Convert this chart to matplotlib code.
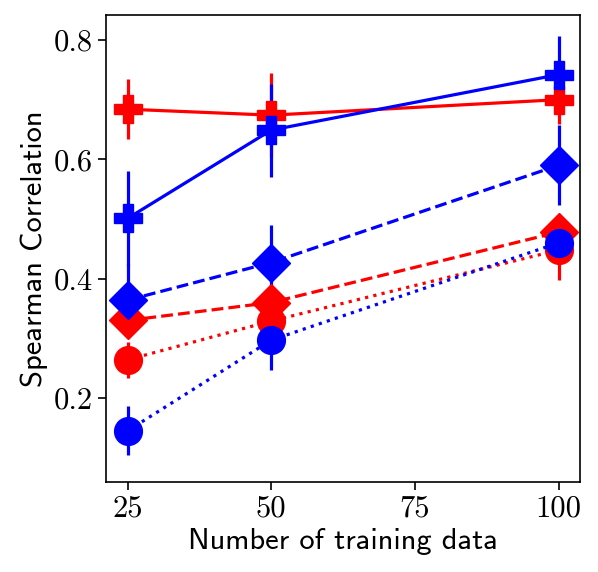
import matplotlib
matplotlib.use("Agg")
import matplotlib.pyplot as plt

n_train = [25, 50, 100]

# solid line, "P" markers
red_plus = [0.684, 0.674, 0.700]
red_plus_err = [0.050, 0.070, 0.040]
blue_plus = [0.501, 0.649, 0.742]
blue_plus_err = [0.080, 0.078, 0.065]

# dashed line, diamonds
red_diam = [0.330, 0.360, 0.478]
red_diam_err = [0.020, 0.030, 0.025]
blue_diam = [0.364, 0.427, 0.590]
blue_diam_err = [0.060, 0.063, 0.067]

# dotted line, circles
red_circ = [0.264, 0.329, 0.448]
red_circ_err = [0.030, 0.030, 0.050]
blue_circ = [0.145, 0.297, 0.460]
blue_circ_err = [0.041, 0.050, 0.020]

x_ticks = [25, 50, 75, 100]
y_ticks = [0.2, 0.4, 0.6, 0.8]

fig = plt.figure(figsize=(5.98, 5.72), dpi=100)
ax = fig.add_axes([0.1773, 0.1573, 0.7927, 0.8165])

series = [
    (red_plus, red_plus_err, 'red', 'P', '-'),
    (blue_plus, blue_plus_err, 'blue', 'P', '-'),
    (red_diam, red_diam_err, 'red', 'D', '--'),
    (blue_diam, blue_diam_err, 'blue', 'D', '--'),
    (red_circ, red_circ_err, 'red', 'o', ':'),
    (blue_circ, blue_circ_err, 'blue', 'o', ':'),
]
for vals, err, col, mk, ls in series:
    ms = 19.5 if mk == 'D' else 20
    ax.errorbar(n_train, vals, yerr=err, color=col, marker=mk, ms=ms,
                ls=ls, lw=2.3, elinewidth=2.3, capsize=0)

ax.set_xlim(21.25, 103.75)
ax.set_ylim(0.0592, 0.8419)
ax.set_xticks(x_ticks)
ax.set_xticklabels([str(t) for t in x_ticks], fontfamily='cmr10', fontsize=22)
ax.set_yticks(y_ticks)
ax.set_yticklabels(['%.1f' % t for t in y_ticks], fontfamily='cmr10', fontsize=22)
ax.tick_params(length=6, width=1.2)
for sp in ax.spines.values():
    sp.set_linewidth(1.2)

ax.set_xlabel('Number of training data', fontfamily='cmss10', fontsize=22)
ax.set_ylabel('Spearman Correlation', fontfamily='cmss10', fontsize=22)

fig.savefig('out.png', dpi=100)
